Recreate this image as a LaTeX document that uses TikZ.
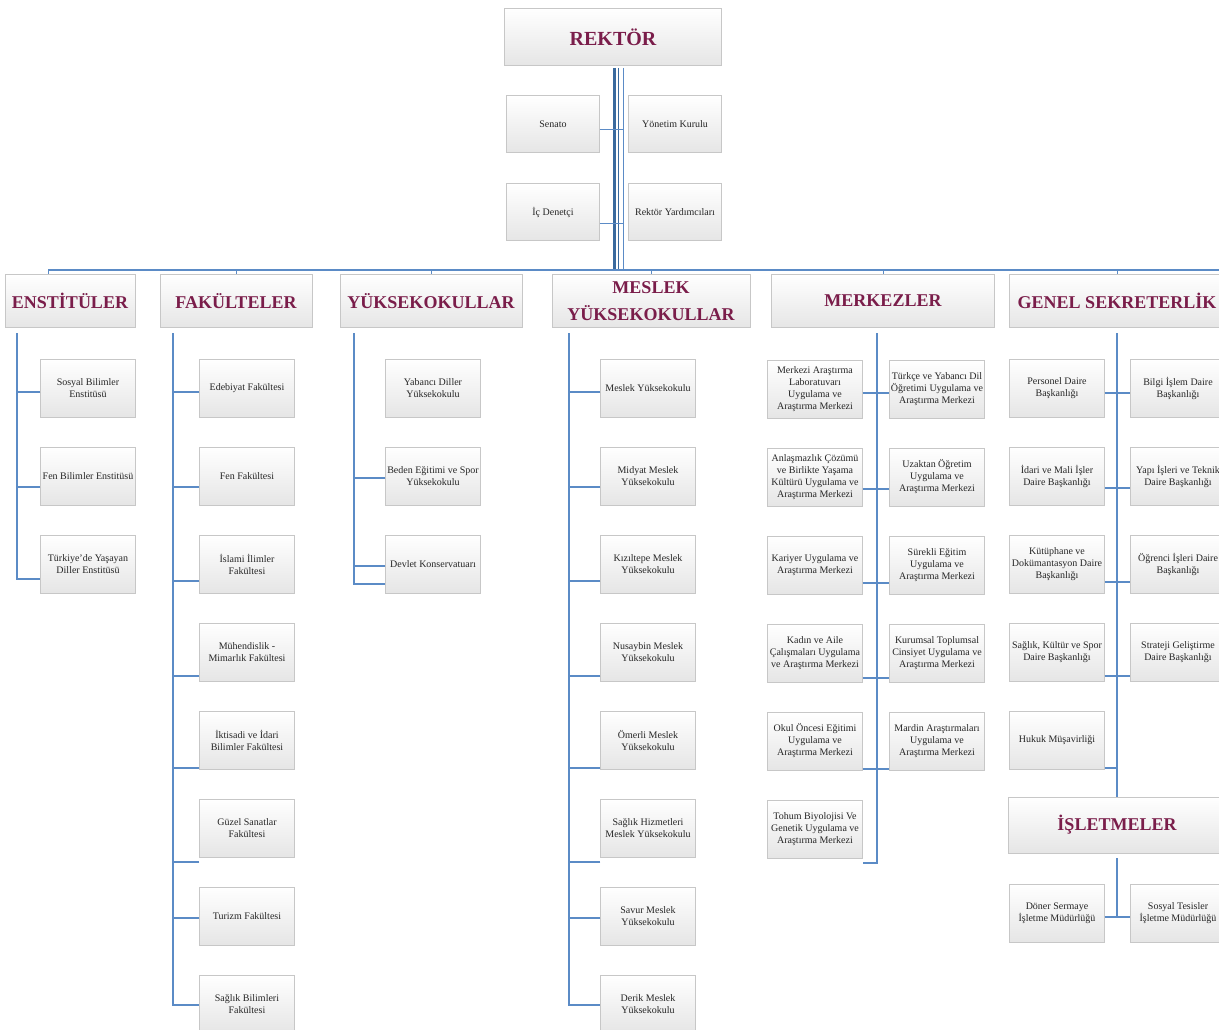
\documentclass[tikz,border=0pt]{standalone}
\usepackage{fontspec}
\setmainfont{Liberation Serif}
\usetikzlibrary{positioning,calc}
\definecolor{linkblue}{HTML}{5B8BC6}
\definecolor{trunkblue}{HTML}{3A6A9E}
\definecolor{headred}{HTML}{7A1D4A}
\tikzset{
  box/.style={draw=black!22, top color=white, bottom color=black!10, inner sep=1pt, align=center},
  unit/.style={box, minimum width=95pt, minimum height=58pt, text=black!85, font=\fontsize{10}{12}\selectfont},
  head/.style={box, minimum height=53pt, text=headred, font=\fontsize{18}{27}\selectfont\bfseries},
  link/.style={draw=linkblue, line width=1.6pt},
}

\begin{document}
\begin{tikzpicture}[x=1pt, y=-1pt, node distance=29.6pt]
  \useasboundingbox (0,0) rectangle (1219,1030);
  \clip (0,0) rectangle (1219,1030);
  % Define nodes
  \node[head, minimum width=217pt, minimum height=57pt, font=\fontsize{20}{24}\selectfont\bfseries] (rektor) at (613,37) {REKTÖR};
  \node[unit, minimum width=93pt, minimum height=57pt] (senato) at (553,124) {Senato};
  \node[unit, minimum width=93pt, minimum height=57pt] (yonetim) at (675,124) {Yönetim Kurulu};
  \node[unit, minimum width=93pt, minimum height=57pt] (denetci) at (553,212) {İç Denetçi};
  \node[unit, minimum width=93pt, minimum height=57pt] (yrd) at (675,212) {Rektör Yardımcıları};

  \node[head, minimum width=130pt] (enst) at (70,301) {ENSTİTÜLER};
  \node[head, minimum width=152pt] (fak) at (236,301) {FAKÜLTELER};
  \node[head, minimum width=182pt] (yuk) at (431,301) {YÜKSEKOKULLAR};
  \node[head, minimum width=198pt] (mes) at (651,301) {MESLEK\\YÜKSEKOKULLAR};
  \node[head, minimum width=223pt] (mer) at (883,301) {MERKEZLER};
  \node[head, minimum width=215pt] (gen) at (1117,301) {GENEL SEKRETERLİK};

  % Enstitüler
  \node[unit] (e1) at (88,388) {Sosyal Bilimler\\Enstitüsü};
  \node[unit, below=of e1] (e2) {Fen Bilimler Enstitüsü};
  \node[unit, below=of e2] (e3) {Türkiye'de Yaşayan\\Diller Enstitüsü};

  % Fakülteler
  \node[unit] (f1) at (247,388) {Edebiyat Fakültesi};
  \node[unit, below=of f1] (f2) {Fen Fakültesi};
  \node[unit, below=of f2] (f3) {İslami İlimler\\Fakültesi};
  \node[unit, below=of f3] (f4) {Mühendislik -\\Mimarlık Fakültesi};
  \node[unit, below=of f4] (f5) {İktisadi ve İdari\\Bilimler Fakültesi};
  \node[unit, below=of f5] (f6) {Güzel Sanatlar\\Fakültesi};
  \node[unit, below=of f6] (f7) {Turizm Fakültesi};
  \node[unit, below=of f7] (f8) {Sağlık Bilimleri\\Fakültesi};

  % Yüksekokullar
  \node[unit] (y1) at (433,388) {Yabancı Diller\\Yüksekokulu};
  \node[unit, below=of y1] (y2) {Beden Eğitimi ve Spor\\Yüksekokulu};
  \node[unit, below=of y2] (y3) {Devlet Konservatuarı};

  % Meslek Yüksekokulları
  \node[unit] (s1) at (648,388) {Meslek Yüksekokulu};
  \node[unit, below=of s1] (s2) {Midyat Meslek\\Yüksekokulu};
  \node[unit, below=of s2] (s3) {Kızıltepe Meslek\\Yüksekokulu};
  \node[unit, below=of s3] (s4) {Nusaybin Meslek\\Yüksekokulu};
  \node[unit, below=of s4] (s5) {Ömerli Meslek\\Yüksekokulu};
  \node[unit, below=of s5] (s6) {Sağlık Hizmetleri\\Meslek Yüksekokulu};
  \node[unit, below=of s6] (s7) {Savur Meslek\\Yüksekokulu};
  \node[unit, below=of s7] (s8) {Derik Meslek\\Yüksekokulu};

  % Merkezler
  \node[unit] (m1) at (815,389) {Merkezi Araştırma\\Laboratuvarı\\Uygulama ve\\Araştırma Merkezi};
  \node[unit, below=of m1] (m2) {Anlaşmazlık Çözümü\\ve Birlikte Yaşama\\Kültürü Uygulama ve\\Araştırma Merkezi};
  \node[unit, below=of m2] (m3) {Kariyer Uygulama ve\\Araştırma Merkezi};
  \node[unit, below=of m3] (m4) {Kadın ve Aile\\Çalışmaları Uygulama\\ve Araştırma Merkezi};
  \node[unit, below=of m4] (m5) {Okul Öncesi Eğitimi\\Uygulama ve\\Araştırma Merkezi};
  \node[unit, below=of m5] (m6) {Tohum Biyolojisi Ve\\Genetik Uygulama ve\\Araştırma Merkezi};
  \node[unit] (n1) at (937,389) {Türkçe ve Yabancı Dil\\Öğretimi Uygulama ve\\Araştırma Merkezi};
  \node[unit, below=of n1] (n2) {Uzaktan Öğretim\\Uygulama ve\\Araştırma Merkezi};
  \node[unit, below=of n2] (n3) {Sürekli Eğitim\\Uygulama ve\\Araştırma Merkezi};
  \node[unit, below=of n3] (n4) {Kurumsal Toplumsal\\Cinsiyet Uygulama ve\\Araştırma Merkezi};
  \node[unit, below=of n4] (n5) {Mardin Araştırmaları\\Uygulama ve\\Araştırma Merkezi};

  % Genel Sekreterlik
  \node[unit] (g1) at (1057,388) {Personel Daire\\Başkanlığı};
  \node[unit, below=of g1] (g2) {İdari ve Mali İşler\\Daire Başkanlığı};
  \node[unit, below=of g2] (g3) {Kütüphane ve\\Dokümantasyon Daire\\Başkanlığı};
  \node[unit, below=of g3] (g4) {Sağlık, Kültür ve Spor\\Daire Başkanlığı};
  \node[unit, below=of g4] (g5) {Hukuk Müşavirliği};
  \node[unit] (h1) at (1178,388) {Bilgi İşlem Daire\\Başkanlığı};
  \node[unit, below=of h1] (h2) {Yapı İşleri ve Teknik\\Daire Başkanlığı};
  \node[unit, below=of h2] (h3) {Öğrenci İşleri Daire\\Başkanlığı};
  \node[unit, below=of h3] (h4) {Strateji Geliştirme\\Daire Başkanlığı};

  % İşletmeler
  \node[head, minimum width=218pt, minimum height=56pt] (isl) at (1117,825) {İŞLETMELER};
  \node[unit] (i1) at (1057,913) {Döner Sermaye\\İşletme Müdürlüğü};
  \node[unit] (i2) at (1178,913) {Sosyal Tesisler\\İşletme Müdürlüğü};

  % Connect the nodes
  \coordinate (busL) at (48,270);
  \coordinate (busR) at (1219,270);
  \coordinate (rk1) at (614,68);
  \coordinate (rk2) at (618,68);
  \coordinate (rk3) at (623,68);
  \draw[trunkblue, line width=3pt] (rk1) -- (rk1 |- busL);
  \draw[trunkblue, line width=1pt] (rk2) -- (rk2 |- busL);
  \draw[linkblue, line width=1pt] (rk3) -- (rk3 |- busL);
  \draw[link, line width=1pt] ($(senato.east)+(0,6)$) coordinate (b) -- (b -| rk3);
  \draw[link, line width=1pt] ($(denetci.east)+(0,11)$) coordinate (b) -- (b -| rk3);
  \draw[link, line width=2pt] (busL) -- (busR);
  \draw[link, line width=1pt] (busL) -- (busL |- enst.north);
  \foreach \h in {fak, yuk, mes, mer, gen}
    \draw[link, line width=1pt] (\h.north |- busL) -- (\h.north);

  \coordinate (et) at (17,333);
  \draw[link] (et) |- ($(e3.west)+(0,15)$);
  \foreach \n/\d in {e1/4, e2/11}
    \draw[link] ($(\n.west)+(0,\d)$) coordinate (b) -- (b -| et);

  \coordinate (ft) at (173,333);
  \draw[link] (ft) |- ($(f8.west)+(0,1)$);
  \foreach \n/\d in {f1/4, f2/11, f3/17, f4/24, f5/28, f6/34, f7/2}
    \draw[link] ($(\n.west)+(0,\d)$) coordinate (b) -- (b -| ft);

  \coordinate (yt) at (354,333);
  \draw[link] (yt) |- ($(y3.west)+(0,20)$);
  \foreach \n/\d in {y2/2, y3/2}
    \draw[link] ($(\n.west)+(0,\d)$) coordinate (b) -- (b -| yt);

  \coordinate (st) at (569,333);
  \draw[link] (st) |- ($(s8.west)+(0,1)$);
  \foreach \n/\d in {s1/4, s2/11, s3/17, s4/24, s5/28, s6/34, s7/2}
    \draw[link] ($(\n.west)+(0,\d)$) coordinate (b) -- (b -| st);

  \coordinate (mt) at (877,333);
  \draw[link] (mt) |- ($(m6.east)+(0,34)$);
  \foreach \l/\r/\d in {m1/n1/4, m2/n2/12, m3/n3/18, m4/n4/25, m5/n5/28}
    \draw[link] ($(\l.east)+(0,\d)$) coordinate (b) -- (b -| \r.west);

  \coordinate (gt) at (1117,333);
  \draw[link] (gt) -- (gt |- isl.north);
  \foreach \l/\r/\d in {g1/h1/5, g2/h2/12, g3/h3/18, g4/h4/24}
    \draw[link] ($(\l.east)+(0,\d)$) coordinate (b) -- (b -| \r.west);
  \draw[link] ($(g5.east)+(0,28)$) coordinate (b) -- (b -| gt);

  \draw[link] ($(i1.east)+(0,4)$) coordinate (b) -- (b -| i2.west);
  \draw[link] ($(isl.south)+(0,5)$) -- (b -| isl.south);
\end{tikzpicture}
\end{document}
